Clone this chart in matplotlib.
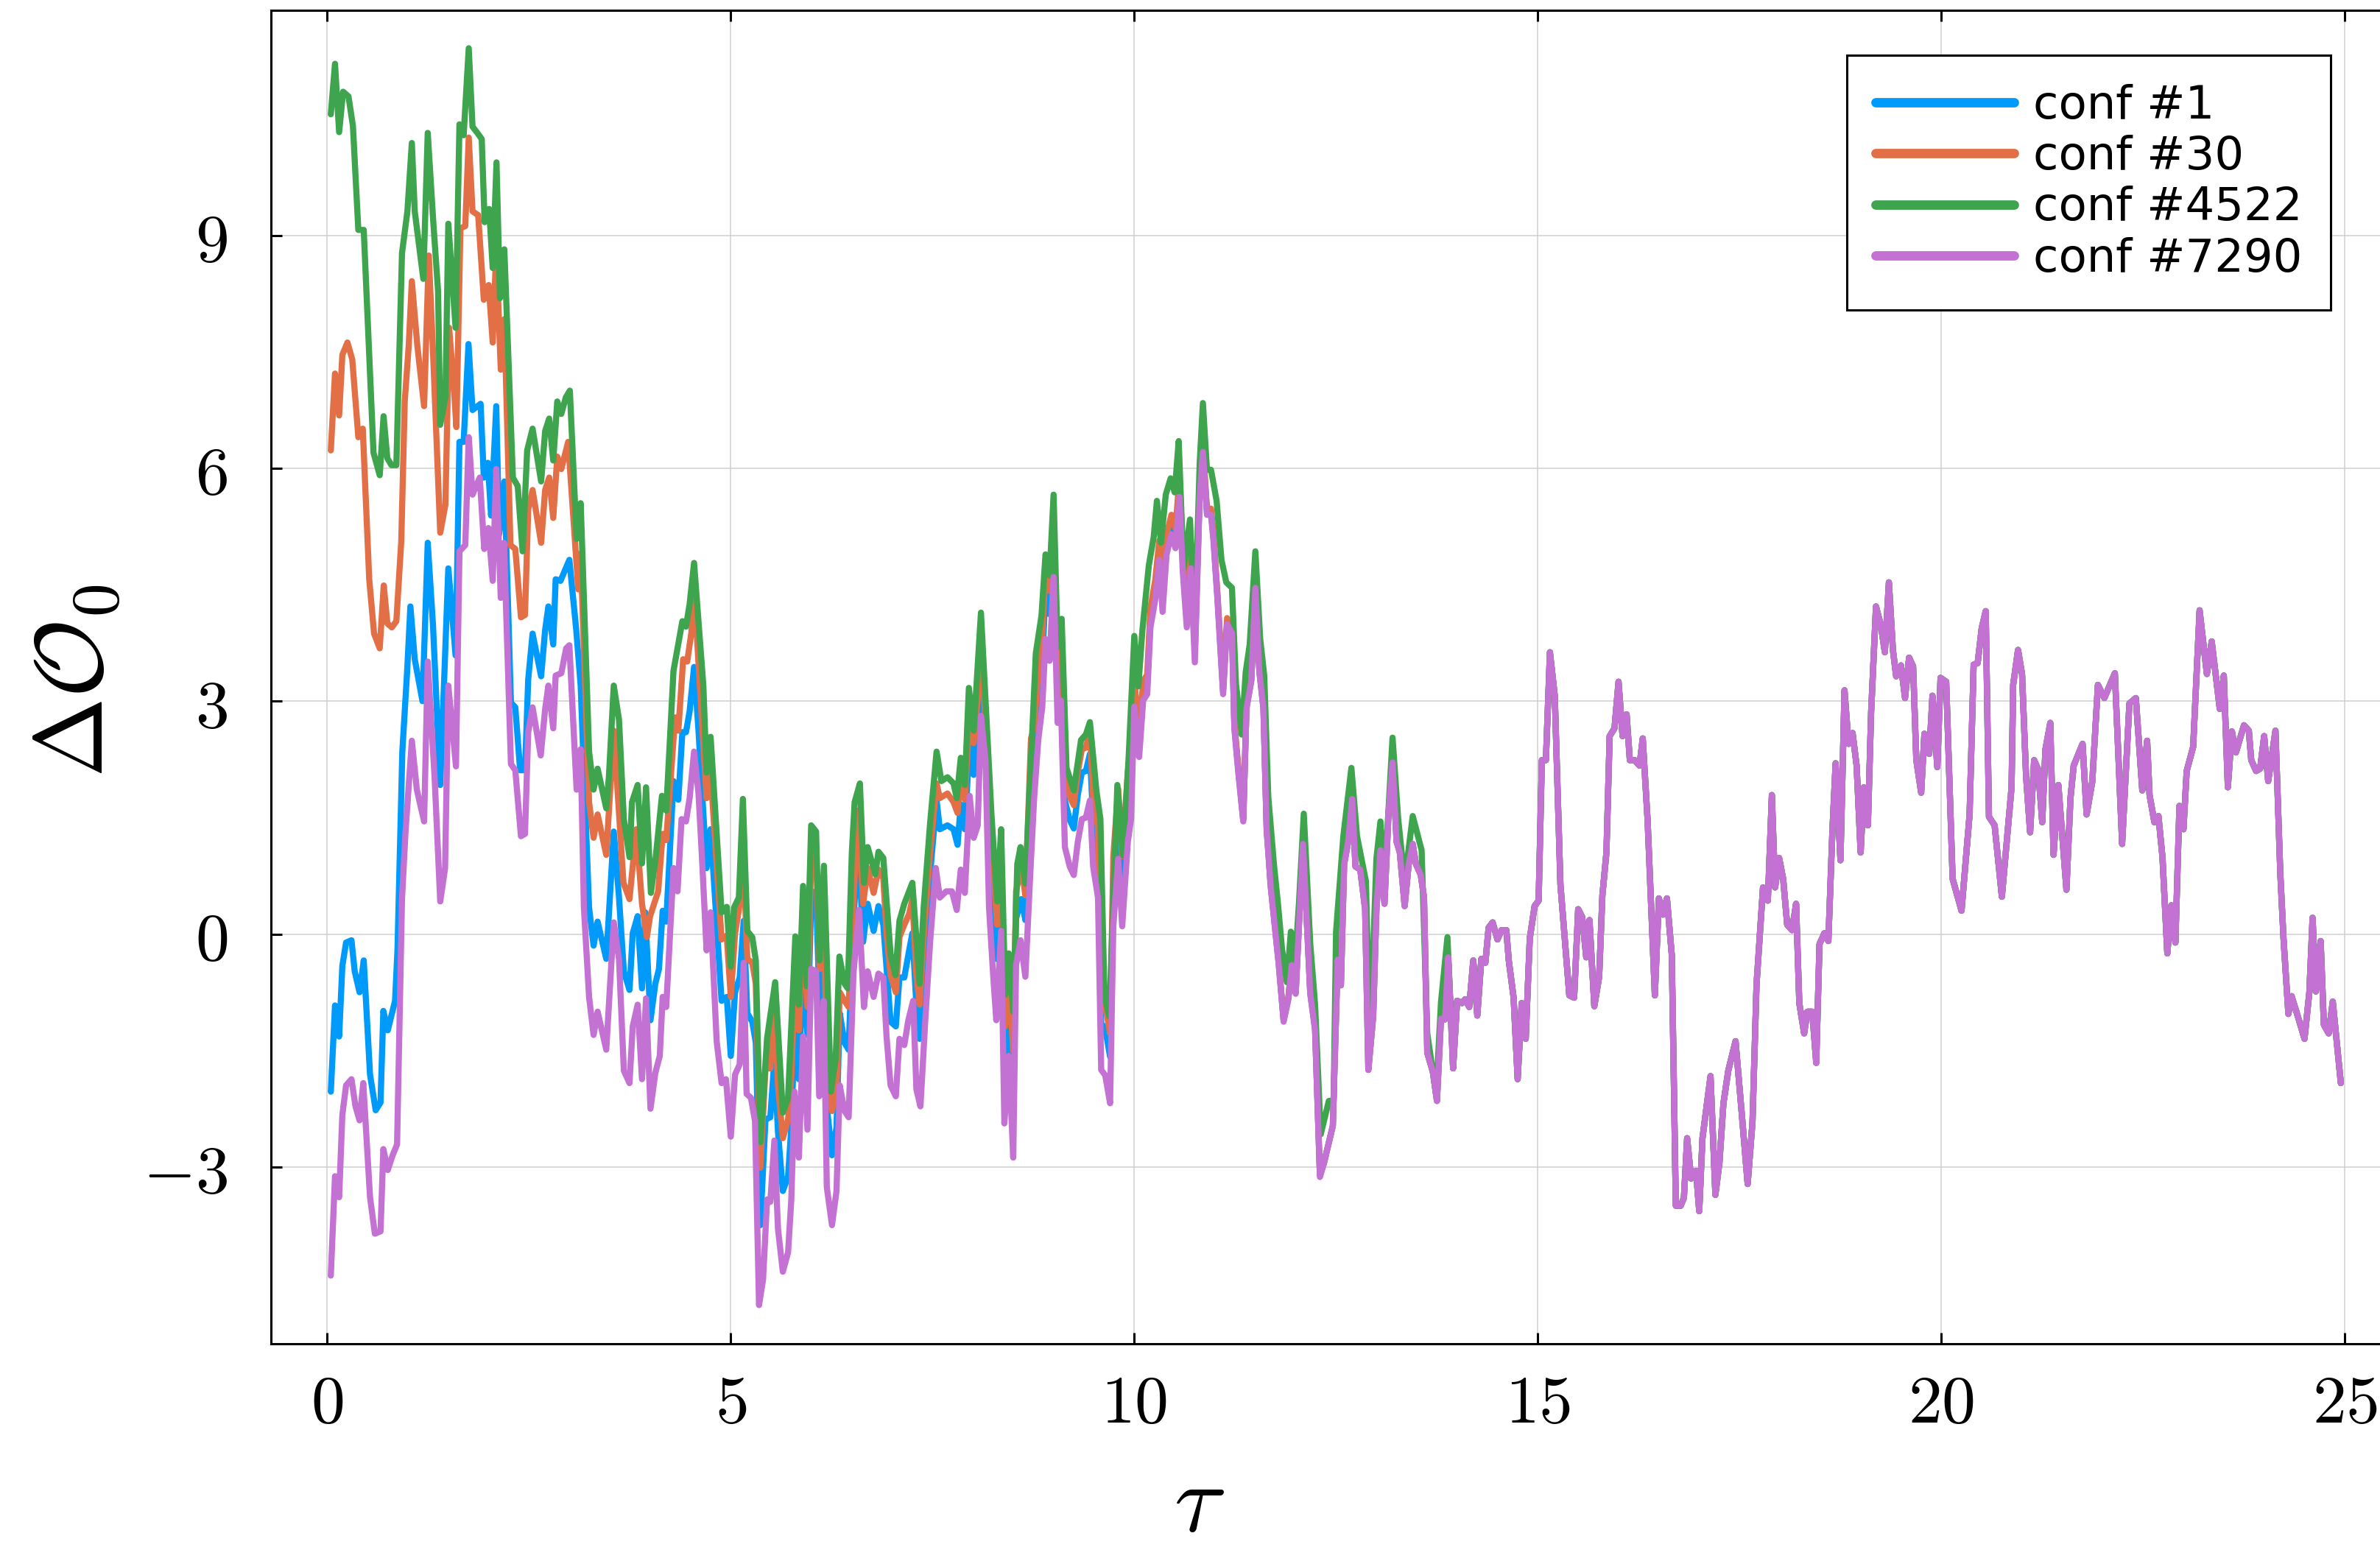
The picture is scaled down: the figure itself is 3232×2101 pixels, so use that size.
import matplotlib.pyplot as plt

plt.rcParams['mathtext.fontset'] = 'cm'

# (tau, value) pairs; all four configurations coincide after ~12.3
conf_7290_head = [
    (0.044, -4.40), (0.096, -3.12), (0.147, -3.39), (0.187, -2.33), (0.233, -1.95), (0.30, -1.87),
    (0.35, -2.22), (0.40, -2.40), (0.446, -1.92), (0.53, -3.39), (0.59, -3.86), (0.66, -3.83),
    (0.695, -2.77), (0.75, -3.04), (0.81, -2.85), (0.865, -2.71), (0.926, 0.45), (0.97, 1.32),
    (1.048, 2.49), (1.11, 1.86), (1.20, 1.45), (1.245, 3.51), (1.33, 2.02), (1.40, 0.42),
    (1.46, 0.85), (1.50, 3.20), (1.595, 2.16), (1.638, 4.93), (1.71, 5.01), (1.753, 6.40),
    (1.80, 5.66), (1.89, 5.88), (1.945, 4.96), (1.997, 5.23), (2.05, 4.55), (2.094, 5.99),
    (2.15, 4.33), (2.19, 5.04), (2.276, 2.19), (2.33, 2.11), (2.40, 1.26), (2.45, 1.29),
    (2.49, 2.60), (2.544, 2.92), (2.645, 2.30), (2.70, 2.90), (2.74, 3.20), (2.80, 2.65),
    (2.83, 3.33), (2.90, 3.36), (2.96, 3.68), (3.0, 3.72), (3.09, 1.86), (3.14, 2.38),
    (3.18, 0.34), (3.244, -0.81), (3.30, -1.30), (3.35, -1.00), (3.457, -1.49), (3.55, 0.15),
    (3.615, -0.32), (3.675, -1.76), (3.745, -1.92), (3.785, -1.19), (3.846, -0.91), (3.90, -1.87),
    (3.95, -0.83), (4.005, -2.25), (4.065, -1.79), (4.12, -1.57), (4.156, -0.81), (4.20, -0.94),
    (4.29, 0.85), (4.34, 0.55), (4.39, 1.48), (4.445, 1.45), (4.49, 1.75), (4.545, 2.35),
    (4.60, 1.81), (4.64, 1.05), (4.70, -0.21), (4.75, 0.28), (4.825, -1.38), (4.886, -1.92),
    (4.94, -1.87), (5.0, -2.61), (5.053, -1.81), (5.11, -1.68), (5.16, -0.37), (5.196, -2.06),
    (5.25, -2.11), (5.30, -2.41), (5.35, -4.78), (5.40, -4.45), (5.45, -3.42), (5.49, -3.45),
    (5.54, -2.66), (5.585, -3.80), (5.645, -4.35), (5.71, -4.10), (5.75, -3.42), (5.79, -2.03),
    (5.844, -2.88), (5.896, -1.32), (5.95, -2.52), (5.996, -0.45), (6.057, -0.48), (6.096, -2.09),
    (6.15, -0.86), (6.19, -3.26), (6.254, -3.75), (6.31, -3.31), (6.35, -1.95), (6.41, -2.28),
    (6.46, -2.36), (6.52, -0.51), (6.59, 0.31), (6.65, -0.94), (6.696, -0.48), (6.77, -0.81),
    (6.83, -0.51), (6.89, -0.56), (6.93, -1.32), (6.98, -1.95), (7.045, -2.09), (7.09, -1.35),
    (7.15, -1.43), (7.20, -1.11), (7.26, -0.86), (7.30, -2.00), (7.35, -2.22), (7.41, -1.11),
    (7.47, -0.10), (7.54, 0.85), (7.59, 0.47), (7.67, 0.55), (7.74, 0.55), (7.80, 0.31),
    (7.85, 0.83), (7.90, 0.53), (7.96, 1.78), (8.01, 1.24), (8.06, 1.40), (8.10, 2.81),
    (8.156, 2.24), (8.20, 0.34), (8.25, -0.51), (8.29, -1.11), (8.35, 0.04), (8.39, -2.44),
    (8.445, -1.57), (8.50, -2.88), (8.535, -0.40), (8.59, -0.08), (8.65, -0.55), (8.71, 0.76),
    (8.76, 1.77), (8.81, 2.50), (8.86, 2.93), (8.90, 3.80), (8.95, 3.52), (9.00, 4.60),
    (9.05, 2.72), (9.09, 3.01), (9.14, 1.12), (9.20, 0.87), (9.25, 0.76), (9.30, 1.19),
    (9.35, 1.48), (9.40, 1.50), (9.45, 1.72), (9.49, 0.87), (9.55, 0.47), (9.59, -1.75),
    (9.64, -1.82), (9.70, -2.18), (9.74, 0.10), (9.80, 0.97), (9.85, 0.10), (9.92, 1.19),
    (9.96, 1.48), (10.00, 2.93), (10.06, 2.28), (10.11, 3.01), (10.16, 3.09), (10.20, 3.95),
    (10.26, 4.31), (10.31, 4.82), (10.35, 4.15), (10.40, 4.89), (10.46, 5.15), (10.51, 4.97),
    (10.56, 5.63), (10.60, 4.68), (10.65, 3.95), (10.70, 4.71), (10.75, 3.50), (10.81, 5.62),
    (10.85, 6.21), (10.90, 5.40), (10.95, 5.40), (10.98, 5.08), (11.03, 4.31), (11.10, 3.09),
    (11.15, 3.99), (11.21, 3.88), (11.24, 2.64), (11.29, 2.06), (11.35, 1.45), (11.39, 2.90),
    (11.45, 3.26), (11.50, 4.46), (11.55, 3.37), (11.60, 2.90), (11.64, 1.34), (11.69, 0.61),
    (11.74, 0.10), (11.79, -0.40), (11.85, -1.13), (11.91, -0.84), (11.95, -0.40), (12.00, -0.77),
    (12.04, 0.10), (12.09, 1.16), (12.13, 0.32), (12.18, -0.77), (12.24, -1.24), (12.30, -3.13),
]

conf_1_head = [
    (0.044, -2.03), (0.096, -0.92), (0.147, -1.32), (0.187, -0.41), (0.233, -0.11), (0.30, -0.08),
    (0.34, -0.48), (0.40, -0.75), (0.452, -0.34), (0.53, -1.81), (0.60, -2.27), (0.66, -2.17),
    (0.695, -0.99), (0.75, -1.24), (0.84, -0.86), (0.87, -0.21), (0.93, 2.35), (0.99, 3.39),
    (1.03, 4.22), (1.084, 3.54), (1.18, 3.00), (1.245, 5.04), (1.31, 3.98), (1.40, 1.92),
    (1.50, 4.71), (1.59, 3.59), (1.638, 6.34), (1.69, 6.34), (1.75, 7.60), (1.80, 6.75),
    (1.90, 6.83), (1.94, 5.88), (1.99, 6.07), (2.03, 5.39), (2.094, 6.80), (2.13, 5.15),
    (2.195, 5.83), (2.276, 2.98), (2.33, 2.92), (2.39, 2.11), (2.45, 2.11), (2.49, 3.28),
    (2.544, 3.87), (2.65, 3.32), (2.70, 3.92), (2.74, 4.22), (2.80, 3.73), (2.83, 4.57),
    (2.89, 4.55), (3.0, 4.82), (3.085, 3.92), (3.14, 3.20), (3.244, 0.34), (3.30, -0.15),
    (3.35, 0.16), (3.457, -0.32), (3.55, 1.32), (3.615, 0.47), (3.675, -0.48), (3.745, -0.72),
    (3.785, 0.01), (3.846, 0.23), (3.90, -0.70), (3.94, 0.28), (4.005, -1.11), (4.065, -0.64),
    (4.11, -0.45), (4.156, 0.30), (4.20, 0.16), (4.29, 1.97), (4.35, 1.73), (4.40, 2.60),
    (4.445, 2.60), (4.49, 2.87), (4.545, 3.44), (4.60, 2.62), (4.70, 0.85), (4.75, 1.35),
    (4.886, -0.86), (4.95, -0.81), (5.0, -1.57), (5.053, -0.75), (5.11, -0.56), (5.16, 0.17),
    (5.205, -1.02), (5.266, -1.13), (5.31, -1.40), (5.366, -3.75), (5.43, -2.39), (5.49, -2.36),
    (5.54, -1.62), (5.585, -2.55), (5.645, -3.31), (5.71, -3.12), (5.75, -2.49), (5.80, -0.94),
    (5.844, -1.87), (5.896, -0.37), (5.95, -1.30), (6.0, 0.55), (6.057, 0.53), (6.10, -0.92),
    (6.15, 0.23), (6.19, -2.22), (6.254, -2.85), (6.31, -2.49), (6.35, -1.02), (6.41, -1.40),
    (6.46, -1.49), (6.52, 0.17), (6.58, 1.21), (6.64, -0.10), (6.696, 0.39), (6.77, 0.04),
    (6.83, 0.36), (6.89, 0.12), (6.93, -0.43), (6.98, -1.13), (7.045, -1.19), (7.09, -0.56),
    (7.15, -0.56), (7.21, -0.21), (7.25, 0.01), (7.30, -0.92), (7.34, -1.35), (7.40, -0.21),
    (7.47, 0.77), (7.55, 1.73), (7.59, 1.35), (7.685, 1.40), (7.76, 1.35), (7.81, 1.15),
    (7.85, 1.67), (7.90, 1.35), (7.96, 2.49), (8.01, 2.05), (8.06, 2.57), (8.10, 3.28),
    (8.156, 2.68), (8.23, 0.94), (8.29, -0.32), (8.35, 0.66), (8.40, -1.57), (8.445, -0.86),
    (8.50, -1.90), (8.535, 0.20), (8.60, 0.45), (8.65, 0.18), (8.72, 2.00), (8.76, 2.37),
    (8.81, 3.10), (8.86, 3.53), (8.90, 4.40), (8.95, 4.12), (9.00, 4.95), (9.05, 3.32),
    (9.09, 3.61), (9.14, 1.72), (9.20, 1.47), (9.25, 1.36), (9.30, 1.79), (9.35, 2.08),
    (9.40, 2.10), (9.45, 2.32), (9.49, 1.47), (9.55, 1.07), (9.59, -1.15), (9.64, -1.22),
    (9.70, -1.58), (9.74, 0.70), (9.80, 1.57), (9.85, 0.70), (9.92, 1.79), (9.96, 2.08),
    (10.00, 3.15), (10.06, 2.40), (10.11, 3.13), (10.16, 3.21), (10.20, 4.07), (10.26, 4.43),
    (10.31, 4.94), (10.35, 4.27), (10.40, 5.01), (10.46, 5.27), (10.51, 5.09), (10.56, 5.75),
    (10.60, 4.80), (10.65, 4.07), (10.70, 4.83), (10.75, 3.62), (10.81, 5.66), (10.85, 6.25),
    (10.90, 5.44), (10.95, 5.44), (10.98, 5.12), (11.03, 4.35), (11.10, 3.13), (11.15, 4.03),
    (11.21, 3.92), (11.24, 2.68), (11.29, 2.10), (11.35, 1.47), (11.39, 2.92), (11.45, 3.28),
    (11.50, 4.48), (11.55, 3.39), (11.60, 2.92), (11.64, 1.36), (11.69, 0.63), (11.74, 0.12),
    (11.79, -0.38), (11.85, -1.11), (11.91, -0.82), (11.95, -0.38), (12.00, -0.75), (12.04, 0.12),
    (12.09, 1.18), (12.13, 0.34), (12.18, -0.75), (12.24, -1.22), (12.30, -3.11),
]

conf_30_head = [
    (0.044, 6.23), (0.096, 7.22), (0.147, 6.68), (0.187, 7.46), (0.25, 7.62), (0.31, 7.40),
    (0.35, 6.86), (0.385, 6.40), (0.44, 6.51), (0.52, 4.57), (0.58, 3.87), (0.65, 3.68),
    (0.70, 4.49), (0.745, 4.00), (0.80, 3.95), (0.856, 4.03), (0.917, 5.06), (0.96, 6.86),
    (1.01, 7.59), (1.048, 8.41), (1.115, 7.59), (1.20, 6.80), (1.258, 8.74), (1.31, 7.51),
    (1.40, 5.17), (1.464, 5.53), (1.51, 7.81), (1.57, 7.02), (1.60, 6.53), (1.65, 9.09),
    (1.71, 9.12), (1.753, 10.26), (1.80, 9.31), (1.87, 9.26), (1.94, 8.17), (2.0, 8.36),
    (2.05, 7.62), (2.094, 8.82), (2.15, 7.27), (2.194, 7.92), (2.27, 5.01), (2.33, 4.96),
    (2.40, 4.08), (2.45, 4.11), (2.49, 5.47), (2.544, 5.72), (2.65, 5.04), (2.70, 5.72),
    (2.75, 5.88), (2.80, 5.36), (2.85, 6.15), (2.90, 5.99), (2.985, 6.34), (3.11, 4.44),
    (3.14, 4.90), (3.244, 1.70), (3.30, 1.24), (3.35, 1.54), (3.457, 1.02), (3.55, 2.62),
    (3.67, 0.66), (3.745, 0.45), (3.83, 1.35), (3.90, 0.39), (3.96, -0.04), (4.0, 0.23),
    (4.10, 0.55), (4.156, 1.29), (4.20, 1.21), (4.31, 2.79), (4.35, 2.62), (4.41, 3.54),
    (4.46, 3.51), (4.51, 3.87), (4.55, 4.36), (4.70, 1.75), (4.75, 2.08), (4.886, -0.07),
    (4.95, -0.02), (5.0, -0.81), (5.053, 0.01), (5.10, 0.31), (5.16, 0.90), (5.205, -0.32),
    (5.266, -0.37), (5.31, -0.64), (5.366, -3.01), (5.43, -1.73), (5.49, -1.73), (5.54, -0.91),
    (5.585, -1.95), (5.645, -2.63), (5.71, -2.39), (5.75, -1.84), (5.80, -0.43), (5.844, -1.24),
    (5.896, 0.23), (5.95, -0.94), (6.0, 1.10), (6.057, 1.02), (6.10, -0.45), (6.15, 0.61),
    (6.19, -1.79), (6.254, -2.28), (6.31, -1.98), (6.35, -0.75), (6.41, -0.86), (6.46, -0.94),
    (6.52, 0.45), (6.58, 1.59), (6.64, 0.39), (6.696, 0.85), (6.77, 0.53), (6.83, 0.83),
    (6.89, 0.72), (6.93, 0.01), (6.98, -0.53), (7.045, -0.75), (7.09, -0.04), (7.15, 0.12),
    (7.21, 0.26), (7.25, 0.45), (7.30, -0.53), (7.34, -0.91), (7.40, 0.12), (7.47, 1.05),
    (7.55, 1.94), (7.59, 1.75), (7.685, 1.81), (7.76, 1.70), (7.81, 1.56), (7.85, 2.05),
    (7.90, 1.73), (7.96, 2.84), (8.01, 2.46), (8.11, 3.59), (8.156, 2.73), (8.23, 1.21),
    (8.30, 0.12), (8.35, 1.05), (8.40, -1.19), (8.445, -0.53), (8.50, -1.51), (8.535, 0.55),
    (8.60, 0.88), (8.65, 0.50), (8.72, 2.52), (8.76, 2.67), (8.81, 3.40), (8.86, 3.83),
    (8.90, 4.70), (8.95, 4.42), (9.00, 5.20), (9.05, 3.62), (9.09, 3.91), (9.14, 2.02),
    (9.20, 1.77), (9.25, 1.66), (9.30, 2.09), (9.35, 2.38), (9.40, 2.40), (9.45, 2.62),
    (9.49, 1.77), (9.55, 1.37), (9.59, -0.85), (9.64, -0.92), (9.70, -1.28), (9.74, 1.00),
    (9.80, 1.87), (9.85, 1.00), (9.92, 2.09), (9.96, 2.38), (10.00, 3.30), (10.06, 2.55),
    (10.11, 3.26), (10.16, 3.34), (10.20, 4.20), (10.26, 4.56), (10.31, 5.07), (10.35, 4.40),
    (10.40, 5.14), (10.46, 5.40), (10.51, 5.22), (10.56, 5.88), (10.60, 4.93), (10.65, 4.20),
    (10.70, 4.96), (10.75, 3.75), (10.81, 5.70), (10.85, 6.29), (10.90, 5.48), (10.95, 5.48),
    (10.98, 5.16), (11.03, 4.39), (11.10, 3.17), (11.15, 4.07), (11.21, 3.96), (11.24, 2.72),
    (11.29, 2.14), (11.35, 1.48), (11.39, 2.93), (11.45, 3.29), (11.50, 4.49), (11.55, 3.40),
    (11.60, 2.93), (11.64, 1.37), (11.69, 0.64), (11.74, 0.13), (11.79, -0.37), (11.85, -1.10),
    (11.91, -0.81), (11.95, -0.37), (12.00, -0.74), (12.04, 0.13), (12.09, 1.19), (12.13, 0.35),
    (12.18, -0.74), (12.24, -1.21), (12.30, -3.10),
]

conf_4522_head = [
    (0.044, 10.56), (0.096, 11.21), (0.147, 10.33), (0.196, 10.85), (0.263, 10.79), (0.318, 10.41),
    (0.385, 9.07), (0.452, 9.07), (0.573, 6.20), (0.65, 5.91), (0.698, 6.67), (0.744, 6.13),
    (0.795, 6.04), (0.856, 6.04), (0.926, 8.77), (0.993, 9.31), (1.048, 10.19), (1.084, 9.31),
    (1.19, 8.44), (1.245, 10.32), (1.312, 9.20), (1.373, 8.28), (1.40, 6.56), (1.464, 6.92),
    (1.50, 9.15), (1.59, 7.81), (1.638, 10.43), (1.69, 10.29), (1.753, 11.41), (1.80, 10.40),
    (1.86, 10.32), (1.914, 10.24), (1.95, 9.17), (2.006, 9.34), (2.05, 8.58), (2.097, 9.94),
    (2.14, 8.19), (2.194, 8.82), (2.30, 5.88), (2.36, 5.77), (2.42, 4.93), (2.477, 6.23),
    (2.544, 6.51), (2.65, 5.83), (2.70, 6.48), (2.75, 6.64), (2.80, 6.10), (2.85, 6.86),
    (2.90, 6.70), (2.955, 6.91), (3.006, 7.00), (3.09, 5.09), (3.14, 5.55), (3.244, 2.35),
    (3.30, 1.86), (3.35, 2.13), (3.457, 1.62), (3.49, 2.03), (3.55, 3.20), (3.615, 2.76),
    (3.675, 1.48), (3.745, 0.99), (3.776, 1.70), (3.846, 1.92), (3.90, 0.91), (3.95, 1.89),
    (4.01, 0.53), (4.07, 0.99), (4.147, 1.78), (4.20, 1.59), (4.29, 3.39), (4.40, 4.03),
    (4.445, 3.96), (4.49, 4.25), (4.545, 4.78), (4.66, 3.20), (4.70, 2.08), (4.75, 2.54),
    (4.886, 0.28), (4.95, 0.35), (5.0, -0.42), (5.04, 0.34), (5.10, 0.47), (5.15, 1.74),
    (5.205, 0.04), (5.266, -0.04), (5.31, -0.34), (5.366, -2.68), (5.45, -1.34), (5.55, -0.62),
    (5.645, -2.30), (5.71, -2.11), (5.80, -0.03), (5.844, -0.91), (5.896, 0.62), (5.94, -0.67),
    (5.996, 1.40), (6.057, 1.32), (6.10, -0.34), (6.154, 0.88), (6.24, -2.03), (6.30, -1.60),
    (6.346, -0.29), (6.41, -0.64), (6.45, -0.70), (6.50, 1.05), (6.535, 1.70), (6.60, 1.94),
    (6.65, 0.66), (6.696, 1.12), (6.79, 0.77), (6.83, 1.06), (6.89, 0.98), (6.98, -0.26),
    (7.04, -0.53), (7.09, 0.17), (7.15, 0.39), (7.25, 0.66), (7.34, -0.64), (7.39, 0.34),
    (7.47, 1.43), (7.55, 2.35), (7.61, 1.97), (7.685, 2.02), (7.76, 1.94), (7.80, 1.75),
    (7.85, 2.27), (7.90, 1.92), (7.95, 3.17), (8.01, 2.62), (8.10, 4.14), (8.23, 1.54),
    (8.30, 0.42), (8.35, 1.35), (8.40, -0.78), (8.445, -0.25), (8.50, -1.00), (8.55, 0.90),
    (8.59, 1.12), (8.65, 0.65), (8.78, 3.62), (8.85, 4.10), (8.90, 4.89), (8.95, 4.62),
    (9.00, 5.66), (9.05, 3.70), (9.10, 4.06), (9.16, 2.14), (9.25, 1.85), (9.34, 2.50),
    (9.40, 2.57), (9.45, 2.73), (9.53, 1.85), (9.58, 1.48), (9.63, -0.80), (9.69, -1.06),
    (9.79, 1.92), (9.86, 1.01), (9.93, 2.28), (10.00, 3.84), (10.05, 3.19), (10.10, 3.91),
    (10.18, 4.75), (10.24, 5.11), (10.28, 5.58), (10.33, 5.04), (10.39, 5.66), (10.45, 5.87),
    (10.50, 5.69), (10.55, 6.35), (10.61, 4.71), (10.69, 5.34), (10.75, 3.95), (10.81, 6.06),
    (10.85, 6.84), (10.90, 5.98), (10.95, 5.98), (11.02, 5.58), (11.08, 4.82), (11.14, 4.53),
    (11.21, 4.46), (11.26, 3.22), (11.33, 2.57), (11.38, 3.37), (11.43, 3.73), (11.50, 4.93),
    (11.56, 3.80), (11.61, 3.33), (11.66, 1.77), (11.73, 0.90), (11.78, 0.39), (11.83, -0.19),
    (11.89, -0.62), (11.94, 0.03), (11.99, -0.40), (12.04, 0.39), (12.10, 1.55), (12.18, -0.12),
    (12.24, -0.91), (12.31, -2.58), (12.41, -2.15), (12.47, -2.15), (12.50, 0.03), (12.59, 1.26),
    (12.69, 2.14), (12.76, 1.26), (12.87, 0.68), (12.92, -1.42), (13.00, 0.97), (13.05, 1.45),
    (13.10, 0.68), (13.20, 2.53), (13.27, 1.48), (13.35, 0.68), (13.45, 1.52), (13.56, 1.08),
    (13.63, -1.28), (13.74, -2.07), (13.80, -0.88), (13.88, -0.04), (13.94, -1.42),
]

# common part of all four runs
common_tail = [
    (12.35, -2.95), (12.41, -2.69), (12.46, -2.47), (12.52, -0.33), (12.56, -0.66), (12.60, 0.90),
    (12.65, 1.19), (12.70, 1.74), (12.74, 0.87), (12.80, 0.83), (12.86, 0.32), (12.90, -1.75),
    (12.96, -1.06), (13.00, 0.32), (13.05, 1.08), (13.10, 0.39), (13.15, 1.55), (13.20, 2.21),
    (13.25, 1.19), (13.29, 1.05), (13.35, 0.36), (13.40, 0.90), (13.45, 1.16), (13.49, 0.90),
    (13.55, 0.76), (13.59, 0.47), (13.63, -1.53), (13.70, -1.78), (13.75, -2.15), (13.80, -1.09),
    (13.85, -1.10), (13.89, -0.30), (13.95, -1.73), (14.00, -0.86), (14.06, -0.89), (14.10, -0.84),
    (14.15, -0.94), (14.20, -0.34), (14.25, -1.05), (14.30, -0.32), (14.35, -0.37), (14.39, 0.08),
    (14.44, 0.15), (14.50, -0.07), (14.55, 0.05), (14.61, 0.05), (14.64, -0.34), (14.70, -0.82),
    (14.75, -1.87), (14.80, -0.89), (14.85, -1.35), (14.90, -0.06), (14.96, 0.36), (15.01, 0.43),
    (15.05, 2.24), (15.10, 2.24), (15.15, 3.63), (15.21, 3.07), (15.28, 0.64), (15.39, -0.79),
    (15.45, -0.82), (15.50, 0.32), (15.55, 0.22), (15.60, -0.30), (15.64, 0.18), (15.70, -0.93),
    (15.76, -0.55), (15.80, 0.50), (15.85, 1.05), (15.89, 2.55), (15.95, 2.65), (16.00, 3.25),
    (16.05, 2.55), (16.10, 2.83), (16.14, 2.24), (16.20, 2.24), (16.26, 2.17), (16.30, 2.52),
    (16.36, 1.47), (16.45, -0.79), (16.50, 0.46), (16.55, 0.25), (16.60, 0.46), (16.66, -0.27),
    (16.71, -3.50), (16.77, -3.50), (16.81, -3.40), (16.85, -2.63), (16.90, -3.15), (16.96, -3.05),
    (17.00, -3.57), (17.04, -2.63), (17.14, -1.83), (17.20, -3.36), (17.25, -2.95), (17.30, -2.18),
    (17.36, -1.76), (17.45, -1.38), (17.53, -2.35), (17.60, -3.22), (17.66, -2.42), (17.71, -0.65),
    (17.79, 0.60), (17.85, 0.43), (17.90, 1.79), (17.94, 0.60), (17.99, 0.98), (18.04, 0.71),
    (18.09, 0.12), (18.15, 0.05), (18.20, 0.39), (18.24, -0.89), (18.30, -1.28), (18.34, -1.00),
    (18.40, -1.00), (18.45, -1.66), (18.49, -0.13), (18.55, 0.01), (18.60, -0.09), (18.65, 1.33),
    (18.69, 2.20), (18.75, 0.95), (18.80, 3.14), (18.85, 2.45), (18.90, 2.59), (18.95, 2.17),
    (19.00, 1.05), (19.04, 1.89), (19.09, 1.40), (19.13, 2.86), (19.19, 4.22), (19.25, 3.98),
    (19.30, 3.63), (19.35, 4.53), (19.40, 3.66), (19.44, 3.32), (19.50, 3.46), (19.55, 3.04),
    (19.60, 3.56), (19.65, 3.45), (19.69, 2.24), (19.75, 1.82), (19.79, 2.58), (19.85, 2.32),
    (19.89, 3.07), (19.95, 2.15), (19.99, 3.30), (20.06, 3.25), (20.14, 0.71), (20.25, 0.30),
    (20.35, 1.54), (20.40, 3.47), (20.45, 3.49), (20.50, 3.94), (20.55, 4.16), (20.59, 1.51),
    (20.66, 1.40), (20.75, 0.48), (20.87, 1.89), (20.89, 3.21), (20.95, 3.66), (21.00, 3.35),
    (21.05, 2.03), (21.10, 1.31), (21.15, 2.24), (21.20, 2.12), (21.25, 1.44), (21.29, 2.38),
    (21.35, 2.72), (21.39, 1.02), (21.45, 1.92), (21.55, 0.57), (21.60, 1.75), (21.64, 2.17),
    (21.75, 2.45), (21.80, 1.54), (21.87, 1.96), (21.94, 3.21), (22.02, 3.04), (22.15, 3.36),
    (22.24, 1.16), (22.33, 2.97), (22.41, 3.04), (22.49, 1.85), (22.55, 2.49), (22.58, 1.79),
    (22.64, 1.44), (22.69, 1.52), (22.74, 0.99), (22.80, -0.25), (22.85, 0.37), (22.90, -0.11),
    (22.95, 1.65), (23.00, 1.35), (23.04, 2.10), (23.12, 2.41), (23.20, 4.17), (23.29, 3.35),
    (23.35, 3.77), (23.45, 2.90), (23.50, 3.33), (23.55, 1.89), (23.60, 2.61), (23.65, 2.34),
    (23.75, 2.69), (23.81, 2.62), (23.84, 2.24), (23.90, 2.10), (23.95, 2.13), (24.00, 2.55),
    (24.05, 1.97), (24.14, 2.62), (24.20, 0.78), (24.24, -0.06), (24.30, -1.03), (24.34, -0.80),
    (24.42, -1.07), (24.50, -1.35), (24.56, -0.75), (24.60, 0.21), (24.64, -0.74), (24.70, -0.09),
    (24.74, -1.17), (24.80, -1.28), (24.85, -0.87), (24.95, -1.92),
]

labels = ['conf #1', 'conf #30', 'conf #4522', 'conf #7290']
heads = [conf_1_head, conf_30_head, conf_4522_head, conf_7290_head]
colors = ['#009AFA', '#E36F47', '#3EA44E', '#C371D2']

xticks = [0, 5, 10, 15, 20, 25]
yticks = [-3, 0, 3, 6, 9]

# figure is 3232x2101 px; the plot area runs past the right edge like in the original
W, H = 3232, 2101
fig = plt.figure(figsize=(W / 200, H / 200), dpi=200)
ax = fig.add_axes([367.7 / W, 1 - 1825.3 / H, (3261 - 367.7) / W, (1825.3 - 14) / H])

for head, lab, col in zip(heads, labels, colors):
    last = head[-1][0]
    pts = head + [p for p in common_tail if p[0] > last]
    t = [p[0] for p in pts]
    v = [p[1] for p in pts]
    ax.plot(t, v, color=col, lw=3.0, label=lab,
            solid_joinstyle='round', solid_capstyle='round')

ax.set_xlim(-0.7, 25.7)
ax.set_ylim(-5.281, 11.899)

ax.set_xticks(xticks, ['$%d$' % x for x in xticks])
ax.set_yticks(yticks, ['$%d$' % y for y in yticks])
ax.tick_params(direction='in', length=5.4, width=1.1, top=True, right=True, labelsize=33)
ax.tick_params(axis='x', pad=13)
ax.tick_params(axis='y', pad=21)
ax.grid(True, color='#cfcfcf', lw=0.55)
ax.set_axisbelow(True)
for s in ax.spines.values():
    s.set_linewidth(1.1)

ax.set_xlabel(r'$\tau$', fontsize=47)
ax.xaxis.set_label_coords((1628 - 367.7) / (3261 - 367.7), (1825.3 - 1980) / (1825.3 - 14))
ax.set_ylabel(r'$\Delta\mathcal{O}_0$', fontsize=47)
ax.yaxis.set_label_coords((167 - 367.7) / (3261 - 367.7), 0.497)

leg = ax.legend(loc='upper right', bbox_to_anchor=(3165 / W, 1 - 75 / H),
                bbox_transform=fig.transFigure, fontsize=22.5, frameon=True,
                fancybox=False, edgecolor='black', framealpha=1, borderaxespad=0,
                handlelength=3.0, handletextpad=0.42, labelspacing=0.15, borderpad=0.62)
leg.get_frame().set_linewidth(1.1)
for line in leg.get_lines():
    line.set_linewidth(4.6)

fig.savefig('out.png', dpi=200)
